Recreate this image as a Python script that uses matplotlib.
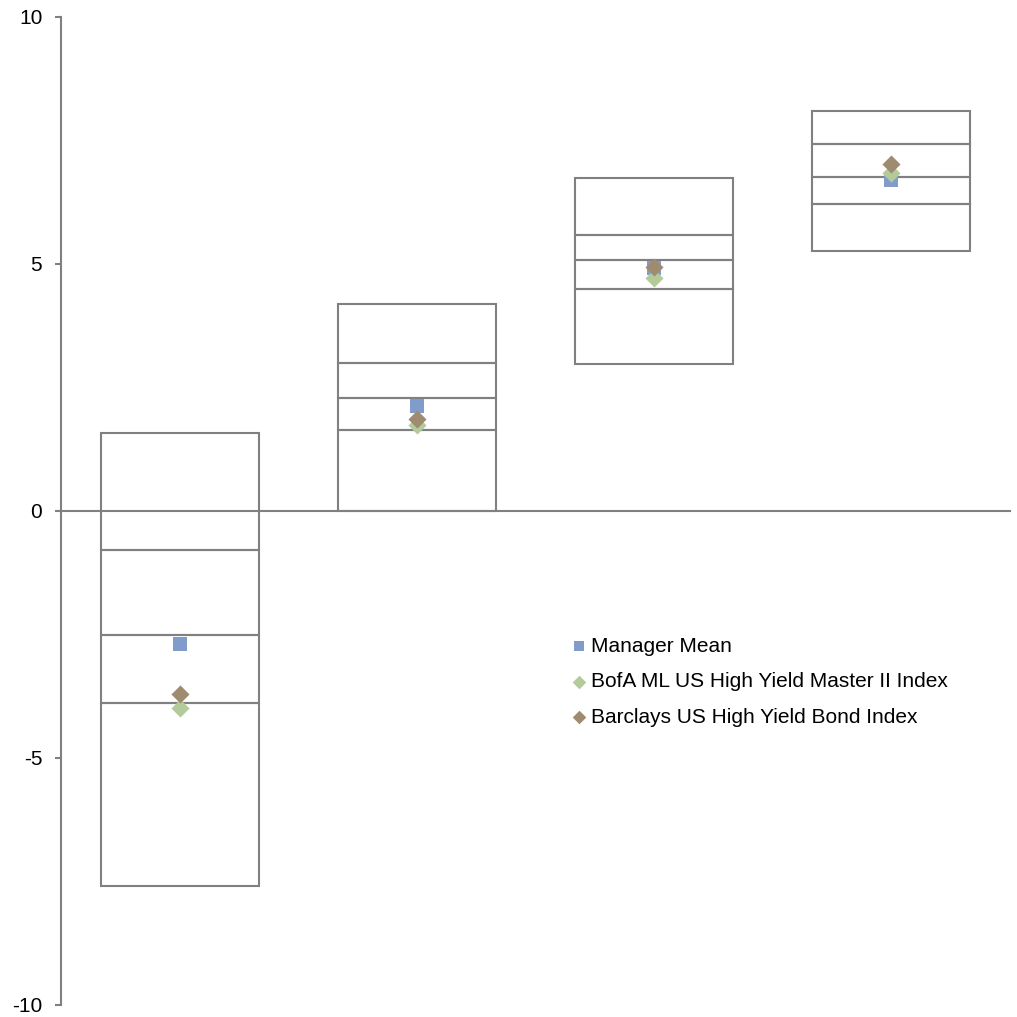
"""Percentile boxes with manager mean and index returns"""

import matplotlib.pyplot as plt
import numpy as np

plt.rcParams["font.family"] = ["Liberation Sans", "DejaVu Sans"]

# Percentile levels for each period group
p05 = [-7.59, 0.0, 2.98, 5.27]
p25 = [-3.89, 1.63, 4.50, 6.21]
p50 = [-2.51, 2.29, 5.08, 6.77]
p75 = [-0.79, 2.99, 5.59, 7.43]
p95 = [1.57, 4.20, 6.75, 8.10]

# Point series
manager_mean = [-2.69, 2.13, 4.91, 6.70]
bofa_index = [-3.99, 1.74, 4.71, 6.84]
barclays_index = [-3.70, 1.86, 4.93, 7.02]

yticks = [-10, -5, 0, 5, 10]

grey = "#808080"
blue = "#819BCB"
green = "#B3CB9A"
brown = "#9E8B70"

fig = plt.figure(figsize=(10.17, 10.17), dpi=100)
ax = fig.add_axes([0.06, 0.0118, 0.933, 0.9715])

x = np.arange(len(p05))
levels = [p05, p25, p50, p75, p95]

# Stacked outline segments between consecutive percentiles
for lo, hi in zip(levels[:-1], levels[1:]):
    lo = np.array(lo)
    hi = np.array(hi)
    ax.bar(x, hi - lo, bottom=lo, width=0.666, facecolor="none",
           edgecolor=grey, linewidth=1.5, zorder=2)

ax.scatter(x, manager_mean, marker="s", s=100, color=blue, zorder=4,
           label="Manager Mean", linewidths=0)
ax.scatter(x, bofa_index, marker="D", s=85, color=green, zorder=5,
           label="BofA ML US High Yield Master II Index", linewidths=0)
ax.scatter(x, barclays_index, marker="D", s=85, color=brown, zorder=6,
           label="Barclays US High Yield Bond Index", linewidths=0)

ax.set_xlim(-0.5, 3.5)
ax.set_ylim(-10, 10)
ax.set_yticks(yticks)
ax.set_yticklabels([str(t) for t in yticks])
ax.set_xticks([])

for side in ["top", "right"]:
    ax.spines[side].set_visible(False)
ax.spines["left"].set_color(grey)
ax.spines["left"].set_linewidth(1.5)
ax.spines["bottom"].set_position(("data", 0))
ax.spines["bottom"].set_color(grey)
ax.spines["bottom"].set_linewidth(1.5)
ax.tick_params(axis="y", length=4.5, width=1.5, color=grey, pad=9,
               labelsize=15)

ax.legend(loc="upper left", bbox_to_anchor=(0.5635, 0.3737),
          bbox_transform=fig.transFigure, frameon=False, fontsize=15,
          handlelength=0.55, handletextpad=0.3, borderpad=0,
          borderaxespad=0, labelspacing=0.79, markerscale=0.75)

fig.savefig("out.png", dpi=100)
